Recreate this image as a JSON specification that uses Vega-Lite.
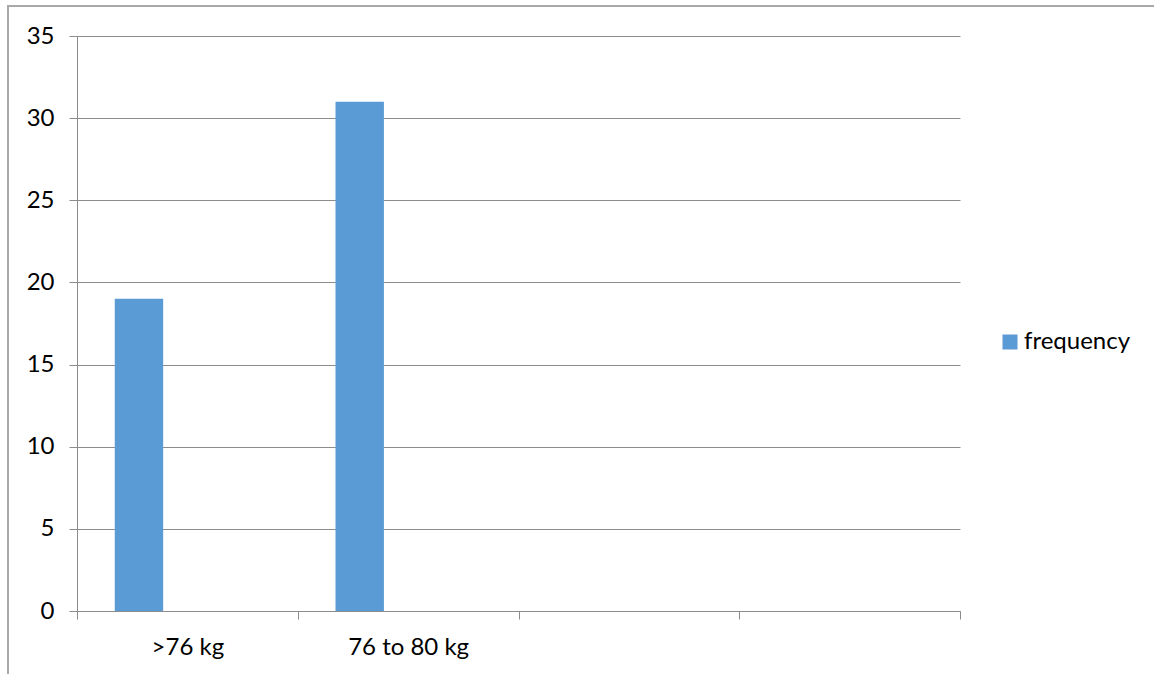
{
  "$schema": "https://vega.github.io/schema/vega-lite/v6.json",
  "autosize": {"type": "none"},
  "padding": {"left": 8, "top": 6, "right": 0, "bottom": 0},
  "width": 1152,
  "height": 674,
  "background": "#ffffff",
  "config": {
    "view": {"stroke": "#a9a9a9", "strokeWidth": 2},
    "font": "Lato",
    "axis": {
      "labelFont": "Lato",
      "labelFontSize": 24,
      "labelColor": "#000000",
      "domainColor": "#8c8c8c",
      "tickColor": "#8c8c8c",
      "gridColor": "#8c8c8c",
      "domainWidth": 1,
      "tickWidth": 1,
      "gridWidth": 1,
      "gridOpacity": 1,
      "title": null
    },
    "legend": {
      "labelFont": "Lato",
      "labelFontSize": 24,
      "labelColor": "#000000"
    }
  },
  "data": {
    "values": [
      {"weight": ">76 kg", "series": "frequency", "count": 19},
      {"weight": "76 to 80 kg", "series": "frequency", "count": 31}
    ]
  },
  "mark": {"type": "bar"},
  "encoding": {
    "x": {
      "field": "weight",
      "type": "nominal",
      "sort": null,
      "scale": {
        "domain": [">76 kg", "76 to 80 kg", " ", "  "],
        "range": [69, 952],
        "paddingInner": 0,
        "paddingOuter": 0
      },
      "axis": {
        "orient": "bottom",
        "offset": -69,
        "labelAngle": 0,
        "tickBand": "extent",
        "tickSize": 8,
        "labelPadding": 16,
        "grid": false,
        "domain": true
      }
    },
    "xOffset": {
      "field": "series",
      "type": "nominal",
      "scale": {
        "domain": ["frequency", "series 2", "series 3"],
        "paddingInner": 0,
        "paddingOuter": 0.78
      }
    },
    "y": {
      "field": "count",
      "type": "quantitative",
      "scale": {"domain": [0, 35], "range": [605, 30], "nice": false, "zero": true},
      "axis": {
        "orient": "left",
        "offset": -69,
        "values": [0, 5, 10, 15, 20, 25, 30, 35],
        "tickSize": 8,
        "labelPadding": 15,
        "grid": true,
        "domain": true
      }
    },
    "color": {
      "field": "series",
      "type": "nominal",
      "scale": {"domain": ["frequency"], "range": ["#5b9bd5"]},
      "legend": {
        "orient": "none",
        "legendX": 990,
        "legendY": 324,
        "title": null,
        "symbolType": "square",
        "symbolSize": 225,
        "symbolStrokeWidth": 0,
        "symbolOpacity": 1,
        "labelOffset": 2,
        "padding": 0
      }
    }
  }
}
